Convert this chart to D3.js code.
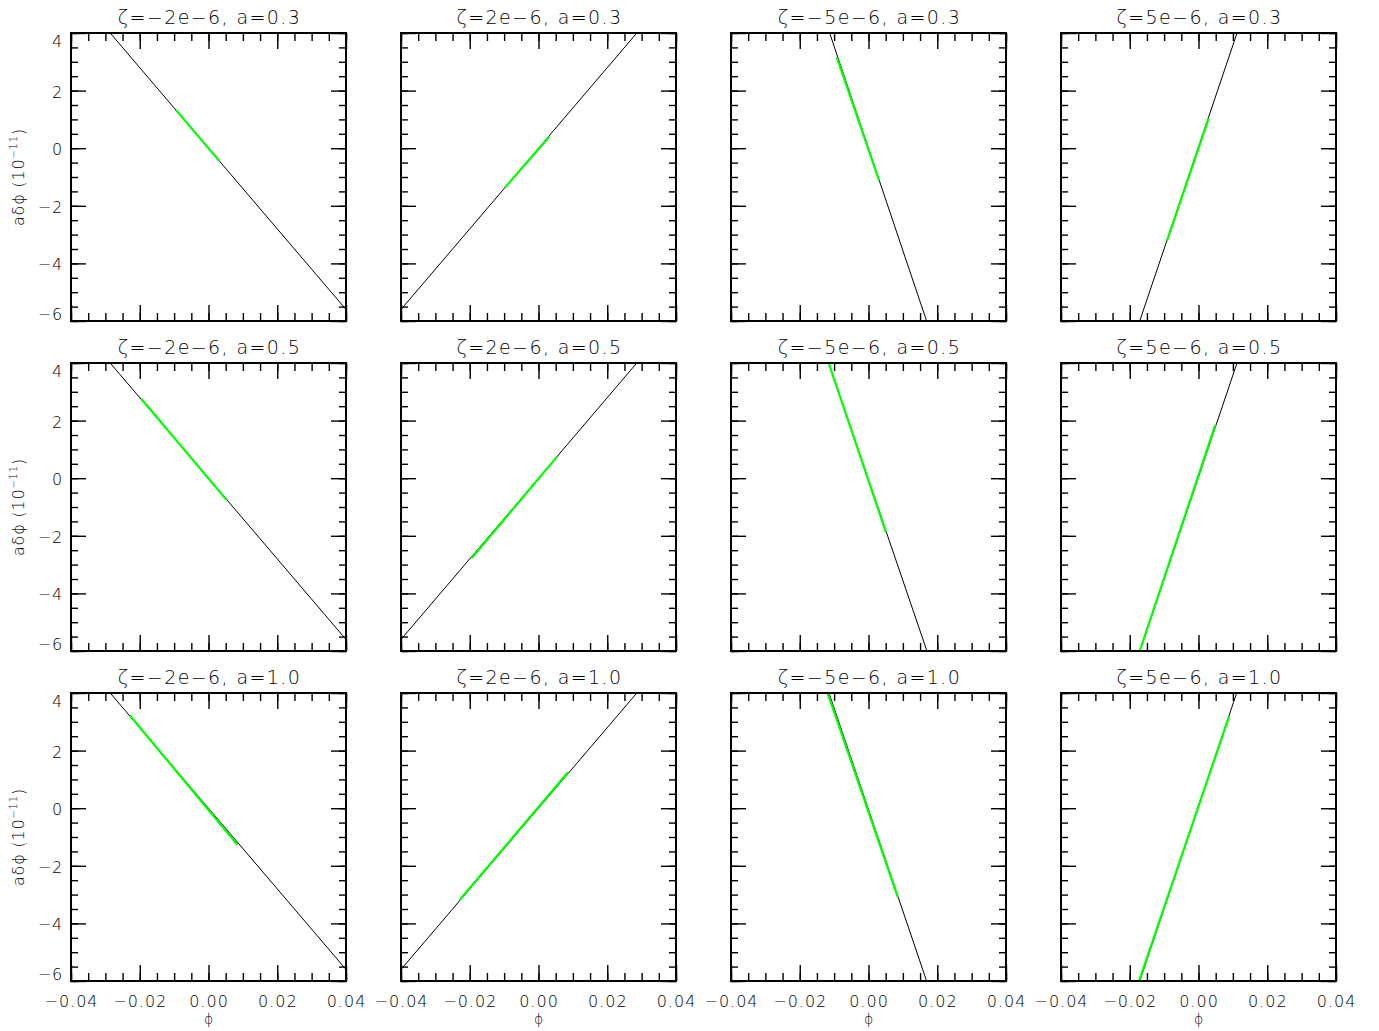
<!DOCTYPE html>
<html>
<head>
<meta charset="utf-8">
<script src="https://cdn.jsdelivr.net/npm/d3@7"></script>
<style>
body { margin: 0; background: #fff; }
text { font-family: "DejaVu Sans", sans-serif; font-weight: 200; fill: #000; }
</style>
</head>
<body>
<svg id="chart"></svg>
<script>
// panel titles
var zetaNames = ["\u22122e\u22126", "2e\u22126", "\u22125e\u22126", "5e\u22126"];
var aNames = ["0.3", "0.5", "1.0"];

// tick values
var xTicks = [-0.04, -0.02, 0, 0.02, 0.04];
var xTickLabels = ["\u22120.04", "\u22120.02", "0.00", "0.02", "0.04"];
var yTicks = [-6, -4, -2, 0, 2, 4];
var yTickLabels = ["\u22126", "\u22124", "\u22122", "0", "2", "4"];

// black reference line per panel (row-major), endpoints read at the frame
var blackLines = [
    [[-0.0286, 4], [0.04, -5.6]], [[-0.04, -5.6], [0.0286, 4]], [[-0.0113, 4], [0.0169, -6]], [[-0.0171, -6], [0.0112, 4]],
    [[-0.0286, 4], [0.04, -5.6]], [[-0.04, -5.6], [0.0286, 4]], [[-0.0116, 4], [0.0170, -6]], [[-0.0171, -6], [0.0112, 4]],
    [[-0.0286, 4], [0.04, -5.6]], [[-0.04, -5.6], [0.0286, 4]], [[-0.0115, 4], [0.0169, -6]], [[-0.0171, -6], [0.0111, 4]]
];

// green segment per panel (row-major)
var greenLines = [
    [[-0.0095, 1.33], [0.0031, -0.44]], [[-0.0097, -1.36], [0.0031, 0.40]], [[-0.0092, 3.15], [0.0031, -1.13]], [[-0.0092, -3.23], [0.0030, 1.05]],
    [[-0.0195, 2.75], [0.0053, -0.76]], [[-0.0195, -2.78], [0.0054, 0.75]], [[-0.0116, 4.0], [0.0051, -1.88]], [[-0.0171, -6.0], [0.0049, 1.85]],
    [[-0.0228, 3.21], [0.0085, -1.28]], [[-0.0229, -3.18], [0.0086, 1.25]], [[-0.0119, 4.0], [0.0085, -3.08]], [[-0.0173, -6.0], [0.0089, 3.19]]
];

var colX = [71, 401, 731, 1061];
var rowY = [33, 363, 693];
var pw = 275, ph = 288;

var svg = d3.select("#chart").attr("width", 1379).attr("height", 1031);

var x = d3.scaleLinear().domain([-0.04, 0.04]).range([0, pw]);
var y = d3.scaleLinear().domain([-6, 4]).range([ph, 0]);

var xMinor = d3.range(-8, 9).map(function (i) { return i * 0.005; });
var yMinor = d3.range(-12, 9).map(function (i) { return i * 0.5; });

var line = d3.line()
    .x(function (d) { return x(d[0]); })
    .y(function (d) { return y(d[1]); });

function tickStyle(g) {
    g.select(".domain").remove();
    g.selectAll(".tick line").attr("stroke", "#000").attr("stroke-width", 1.4);
}

rowY.forEach(function (top, r) {
    colX.forEach(function (left, c) {
        var idx = r * 4 + c;
        var p = svg.append("g").attr("transform", "translate(" + left + "," + top + ")");

        p.append("clipPath").attr("id", "clip" + idx)
            .append("rect").attr("width", pw).attr("height", ph);

        // ticks on all four sides, pointing inward
        p.append("g").attr("transform", "translate(0," + ph + ")")
            .call(d3.axisTop(x).tickValues(xMinor).tickSize(8).tickFormat("")).call(tickStyle);
        p.append("g").attr("transform", "translate(0," + ph + ")")
            .call(d3.axisTop(x).tickValues(xTicks).tickSize(16).tickFormat("")).call(tickStyle);
        p.append("g")
            .call(d3.axisBottom(x).tickValues(xMinor).tickSize(8).tickFormat("")).call(tickStyle);
        p.append("g")
            .call(d3.axisBottom(x).tickValues(xTicks).tickSize(16).tickFormat("")).call(tickStyle);
        p.append("g")
            .call(d3.axisRight(y).tickValues(yMinor).tickSize(7).tickFormat("")).call(tickStyle);
        p.append("g")
            .call(d3.axisRight(y).tickValues(yTicks).tickSize(15).tickFormat("")).call(tickStyle);
        p.append("g").attr("transform", "translate(" + pw + ",0)")
            .call(d3.axisLeft(y).tickValues(yMinor).tickSize(7).tickFormat("")).call(tickStyle);
        p.append("g").attr("transform", "translate(" + pw + ",0)")
            .call(d3.axisLeft(y).tickValues(yTicks).tickSize(15).tickFormat("")).call(tickStyle);

        var plot = p.append("g").attr("clip-path", "url(#clip" + idx + ")");
        plot.append("path").datum(blackLines[idx]).attr("d", line)
            .attr("fill", "none").attr("stroke", "#000").attr("stroke-width", 1);
        plot.append("path").datum(greenLines[idx]).attr("d", line)
            .attr("fill", "none").attr("stroke", "#00ff00").attr("stroke-width", 2.2);

        p.append("rect").attr("width", pw).attr("height", ph)
            .attr("fill", "none").attr("stroke", "#000").attr("stroke-width", 2);

        p.append("text")
            .attr("x", pw / 2 + 1).attr("y", -9.5)
            .attr("text-anchor", "middle")
            .style("font-size", "19px").style("letter-spacing", "1.4px")
            .text("\u03b6=" + zetaNames[c] + ", a=" + aNames[r]);

        if (c == 0) {
            yTicks.forEach(function (t, i) {
                var ty = Math.min(Math.max(y(t) + 7, 14), ph - 1);
                p.append("text")
                    .attr("x", -8).attr("y", ty)
                    .attr("text-anchor", "end")
                    .style("font-size", "16px").style("letter-spacing", "0.8px")
                    .text(yTickLabels[i]);
            });
            var yl = p.append("text")
                .attr("transform", "translate(-47," + (ph / 2) + ") rotate(-90)")
                .attr("text-anchor", "middle")
                .style("font-size", "16px").style("letter-spacing", "0.8px");
            yl.append("tspan").text("a\u03b4\u03d5 (10");
            yl.append("tspan").attr("dy", -7).style("font-size", "10px").text("\u221211");
            yl.append("tspan").attr("dy", 7).text(")");
        }

        if (r == 2) {
            xTicks.forEach(function (t, i) {
                p.append("text")
                    .attr("x", x(t) + 0.5).attr("y", ph + 26)
                    .attr("text-anchor", "middle")
                    .style("font-size", "16px").style("letter-spacing", "1px")
                    .text(xTickLabels[i]);
            });
            p.append("text")
                .attr("x", pw / 2).attr("y", ph + 43)
                .attr("text-anchor", "middle")
                .style("font-size", "14px")
                .text("\u03d5");
        }
    });
});
</script>
</body>
</html>
